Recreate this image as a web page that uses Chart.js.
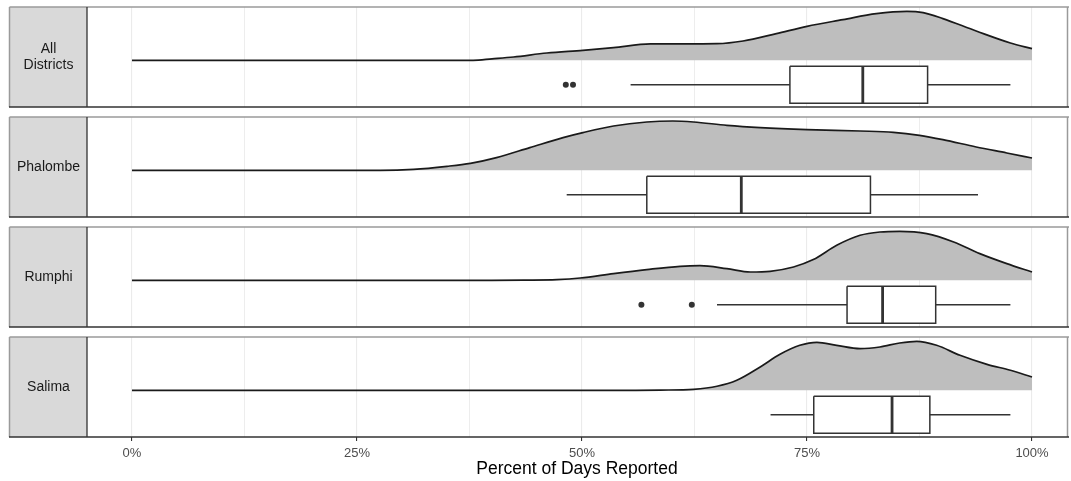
<!DOCTYPE html>
<html><head><meta charset="utf-8">
<script src="https://cdn.jsdelivr.net/npm/chart.js@4.4.1/dist/chart.umd.min.js"></script>
<style>html,body{margin:0;padding:0;background:#fff;}#wrap{width:1071px;height:481px;}</style>
</head><body><div id="wrap"><canvas id="c" width="1071" height="481"></canvas></div>
<script>
// ---------- data ----------
const districts = ['All\nDistricts', 'Phalombe', 'Rumphi', 'Salima'];
const xTicksMajor = [0, 25, 50, 75, 100];
const xTicksMinor = [12.5, 37.5, 62.5, 87.5];
const xTitle = 'Percent of Days Reported';

// relative density (ridge height, peak = 1) at percent of days reported
const densAllX = [0, 37.9, 40, 42.4, 46.1, 50.1, 53.5, 57.6, 61, 65, 67.9, 71.6, 75, 79, 82.7, 86.1, 87.9, 90.1, 93.8, 97.6, 100];
const densAllY = [0, 0, 0.03, 0.067, 0.147, 0.202, 0.257, 0.33, 0.333, 0.337, 0.39, 0.54, 0.687, 0.822, 0.943, 0.99, 0.964, 0.842, 0.592, 0.35, 0.236];
const densPhalombeX = [0, 27.6, 31.3, 35, 37.6, 40.5, 44.2, 47.9, 50.1, 53.5, 57.2, 60.1, 62.4, 66.1, 69.8, 75, 80.9, 84.6, 87.5, 90.1, 93.8, 97.2, 100];
const densPhalombeY = [0, 0, 0.02, 0.081, 0.141, 0.257, 0.459, 0.661, 0.762, 0.895, 0.976, 0.996, 0.976, 0.909, 0.863, 0.822, 0.794, 0.768, 0.707, 0.62, 0.471, 0.35, 0.248];
const densRumphiX = [0, 40, 43.5, 47.2, 49.8, 53.5, 57.2, 60.9, 63.1, 66.1, 68.7, 70.9, 73.5, 75.7, 78.3, 80.9, 83.1, 85.3, 88.3, 91.3, 94.2, 97.2, 100];
const densRumphiY = [0, 0, 0.004, 0.014, 0.046, 0.135, 0.216, 0.283, 0.297, 0.236, 0.168, 0.182, 0.269, 0.418, 0.707, 0.909, 0.976, 0.99, 0.943, 0.774, 0.539, 0.337, 0.168];
const densSalimaX = [0, 56, 58.7, 62.4, 65, 67.2, 69.8, 72, 74.2, 76.1, 78.3, 80.9, 83.1, 85.3, 87.2, 89.4, 92, 95, 97.6, 100];
const densSalimaY = [0, 0, 0.004, 0.02, 0.081, 0.202, 0.471, 0.727, 0.909, 0.97, 0.909, 0.842, 0.875, 0.956, 0.99, 0.909, 0.707, 0.525, 0.404, 0.269];

// boxplot statistics (percent)
const whiskerLow  = [55.4, 48.3, 65.0, 70.95];
const boxQ1       = [73.1, 57.2, 79.45, 75.75];
const boxMedian   = [81.2, 67.7, 83.4, 84.45];
const boxQ3       = [88.4, 82.05, 89.3, 88.65];
const whiskerHigh = [97.6, 94.0, 97.6, 97.6];
const outliersAll = [48.2, 49.0];
const outliersPhalombe = [];
const outliersRumphi = [56.6, 62.2];
const outliersSalima = [];

// ---------- layout (not data) ----------
const densX = [densAllX, densPhalombeX, densRumphiX, densSalimaX];
const densY = [densAllY, densPhalombeY, densRumphiY, densSalimaY];
const outliers = [outliersAll, outliersPhalombe, outliersRumphi, outliersSalima];
const PANEL_H = 100, GAP = 10, Y_MAX = 430;
const BASE_OFF = 53.3, RIDGE = 49.5, BOX_TOP = 59.3, BOX_BOT = 96.3, BOX_MID = 77.8;
const FONT = '"Liberation Sans", Arial, sans-serif';
const panelTop = i => Y_MAX - i * (PANEL_H + GAP);
const INK = '#333333';
const PX_ZERO = 132, PX_HUNDRED = 1032;   // where 0% and 100% sit on the page

const datasets = [];
districts.forEach((d, i) => {
  const T = panelTop(i);
  const base = T - BASE_OFF, bt = T - BOX_TOP, bb = T - BOX_BOT, bm = T - BOX_MID;
  datasets.push({
    type: 'line', data: densX[i].map((x, k) => ({x, y: base + densY[i][k] * RIDGE})),
    fill: {value: base}, backgroundColor: '#BEBEBE', borderColor: '#1A1A1A', borderWidth: 1.7,
    pointRadius: 0, cubicInterpolationMode: 'monotone', order: 10
  });
  datasets.push({
    type: 'line', data: [{x: boxQ1[i], y: bt}, {x: boxQ3[i], y: bt}],
    fill: {value: bb}, backgroundColor: '#FFFFFF', borderWidth: 0, borderColor: 'rgba(0,0,0,0)', pointRadius: 0, order: 6
  });
  datasets.push({
    type: 'line', data: [{x: boxQ1[i], y: bt}, {x: boxQ3[i], y: bt}, {x: boxQ3[i], y: bb}, {x: boxQ1[i], y: bb}, {x: boxQ1[i], y: bt}],
    fill: false, borderColor: INK, borderWidth: 1.5, pointRadius: 0, order: 4
  });
  datasets.push({
    type: 'line', data: [{x: whiskerLow[i], y: bm}, {x: boxQ1[i], y: bm}],
    fill: false, borderColor: INK, borderWidth: 1.4, pointRadius: 0, order: 4
  });
  datasets.push({
    type: 'line', data: [{x: boxQ3[i], y: bm}, {x: whiskerHigh[i], y: bm}],
    fill: false, borderColor: INK, borderWidth: 1.4, pointRadius: 0, order: 4
  });
  datasets.push({
    type: 'line', data: [{x: boxMedian[i], y: bt}, {x: boxMedian[i], y: bb}],
    fill: false, borderColor: INK, borderWidth: 2.8, pointRadius: 0, order: 3
  });
  datasets.push({
    type: 'scatter', data: outliers[i].map(x => ({x, y: bm})), showLine: false,
    pointRadius: 3, pointBackgroundColor: INK, pointBorderWidth: 0, order: 2
  });
});

const panelPlugin = {
  id: 'panels',
  beforeDatasetsDraw(chart) {
    const {ctx, chartArea: a, scales: {y}} = chart;
    ctx.save();
    ctx.fillStyle = '#FFFFFF';
    for (let i = 0; i < districts.length - 1; i++) {
      const y0 = y.getPixelForValue(panelTop(i) - PANEL_H);
      const y1 = y.getPixelForValue(panelTop(i + 1));
      ctx.fillRect(a.left - 1, y0, a.right - a.left + 2, y1 - y0);
    }
    ctx.restore();
  },
  afterDatasetsDraw(chart) {
    const {ctx, chartArea: a, scales: {y}} = chart;
    ctx.save();
    districts.forEach((d, i) => {
      const top = y.getPixelForValue(panelTop(i));
      const bot = y.getPixelForValue(panelTop(i) - PANEL_H);
      const sx = 10;
      ctx.fillStyle = '#D9D9D9';
      ctx.fillRect(sx, top, a.left - sx, bot - top);
      ctx.fillStyle = '#1A1A1A';
      ctx.font = '14px ' + FONT;
      ctx.textAlign = 'center';
      ctx.textBaseline = 'middle';
      const lines = d.split('\n');
      const lh = 15.5;
      const cx = (sx + a.left) / 2, cy = (top + bot) / 2;
      lines.forEach((t, k) => ctx.fillText(t, cx, cy + (k - (lines.length - 1) / 2) * lh));
      ctx.strokeStyle = '#9A9A9A';
      ctx.lineWidth = 1.5;
      ctx.beginPath();
      ctx.moveTo(sx - 0.5, top); ctx.lineTo(a.right + 2, top);
      ctx.moveTo(sx - 0.5, top); ctx.lineTo(sx - 0.5, bot);
      ctx.moveTo(a.right + 0.5, top); ctx.lineTo(a.right + 0.5, bot);
      ctx.stroke();
      ctx.strokeStyle = '#333333';
      ctx.lineWidth = 1.3;
      ctx.beginPath();
      ctx.moveTo(sx - 1, bot); ctx.lineTo(a.right + 2, bot);
      ctx.moveTo(a.left, top); ctx.lineTo(a.left, bot);
      ctx.stroke();
    });
    ctx.restore();
  }
};

const chart = new Chart(document.getElementById('c'), {
  type: 'line',
  data: {datasets},
  plugins: [panelPlugin],
  options: {
    responsive: false, animation: false, devicePixelRatio: 1,
    layout: {padding: {left: 87, right: 0, top: 7, bottom: 0}},
    plugins: {legend: {display: false}, tooltip: {enabled: false}},
    elements: {line: {tension: 0}},
    scales: {
      x: {
        type: 'linear', min: -5, max: 104.2,
        afterBuildTicks: s => { s.ticks = xTicksMajor.concat(xTicksMinor).sort((p, q) => p - q).map(v => ({value: v})); },
        afterFit: s => { s.height = 44; },
        grid: {
          color: '#EBEBEB',
          lineWidth: c => (c.tick && xTicksMajor.includes(c.tick.value)) ? 1.1 : 0.9,
          tickColor: c => (c.tick && xTicksMajor.includes(c.tick.value)) ? '#333333' : 'rgba(0,0,0,0)',
          tickLength: 4
        },
        border: {display: false},
        ticks: {
          autoSkip: false, maxRotation: 0, padding: 5,
          callback: v => xTicksMajor.includes(v) ? v + '%' : '',
          color: '#4D4D4D', font: {family: FONT, size: 13}
        },
        title: {display: true, text: xTitle, color: '#000000', font: {family: FONT, size: 17.5}, padding: {top: 0, bottom: 1}}
      },
      y: {display: false, min: 0, max: Y_MAX}
    }
  }
});
// align 0% and 100% to the reference positions inside the laid-out plot area
const ca = chart.chartArea;
const pxPerPct = (PX_HUNDRED - PX_ZERO) / 100;
chart.options.scales.x.min = -(PX_ZERO - ca.left) / pxPerPct;
chart.options.scales.x.max = 100 + (ca.right - PX_HUNDRED) / pxPerPct;
chart.update('none');
</script>
</body></html>
